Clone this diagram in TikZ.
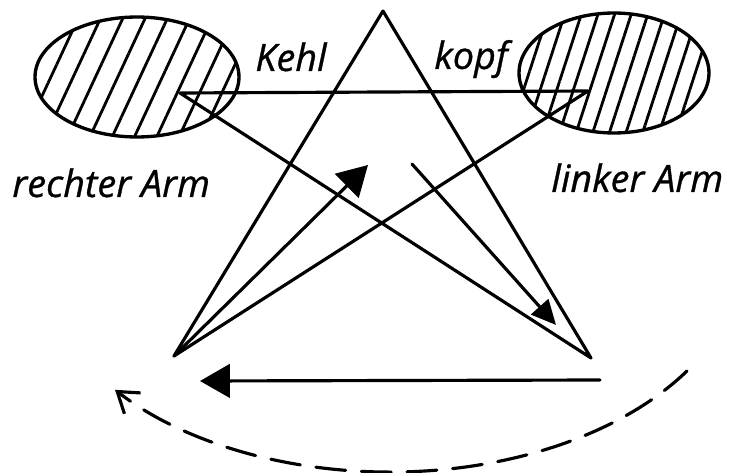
\documentclass[tikz,border=0pt]{standalone}
\usepackage{fontspec}
\setmainfont{Open Sans}
\newfontfamily\handfont{Open Sans}[FakeBold=0.8]
\usetikzlibrary{arrows.meta,shapes.geometric,patterns.meta}

\begin{document}
\begin{tikzpicture}[x=0.02cm, y=-0.02cm,
  pen/.style={line width=1.8pt, line cap=round, line join=round},
  arm/.style={ellipse, draw, line width=1.9pt, inner sep=0pt, minimum height=2.4cm},
  armtext/.style={font=\handfont\itshape\fontsize{21.5}{21.5}\selectfont, anchor=base west, inner sep=0pt},
  head/.style={-{Triangle[length=17pt, width=19pt]}},
]
\useasboundingbox (0,0) rectangle (752,473);

\coordinate (apex) at (383,11);
\coordinate (bl) at (174,356);
\coordinate (br) at (591,358);
\coordinate (rhand) at (180,93);
\coordinate (lhand) at (588,91);
\coordinate (uptip) at (368,165);
\coordinate (dnstart) at (412,164);
\coordinate (dntip) at (556,325);
\coordinate (hstart) at (600,380);
\coordinate (htip) at (200,381);
\coordinate (swing) at (687,371);

\node[arm, minimum width=4.08cm, pattern={Lines[angle=65, distance=11.5pt, line width=1.6pt]}] (rarm) at (137,77) {};
\node[arm, minimum width=3.8cm, pattern={Lines[angle=72, distance=9pt, line width=1.6pt]}] (larm) at (614,73) {};

\draw[pen] (apex) -- (bl) (apex) -- (br) (rhand) -- (lhand) (rhand) -- (br) (lhand) -- (bl);
\draw[pen, head] (bl) -- (uptip);
\draw[pen, -{Triangle[length=14pt, width=13pt]}] (dnstart) -- (dntip);
\draw[pen, head] (hstart) -- (htip);
\draw[pen, dash pattern=on 17pt off 9pt, -{Straight Barb[length=11pt, width=15pt]}]
  (swing) arc[start angle=33, end angle=141, x radius=354, y radius=222];

\node[armtext] (kehl) at (255,71) {Kehl};
\node[armtext] (kopf) at (434,69) {kopf};
\node[armtext] (rechts) at (12,197) {rechter Arm};
\node[armtext] (links) at (551,192) {linker Arm};
\end{tikzpicture}
\end{document}
